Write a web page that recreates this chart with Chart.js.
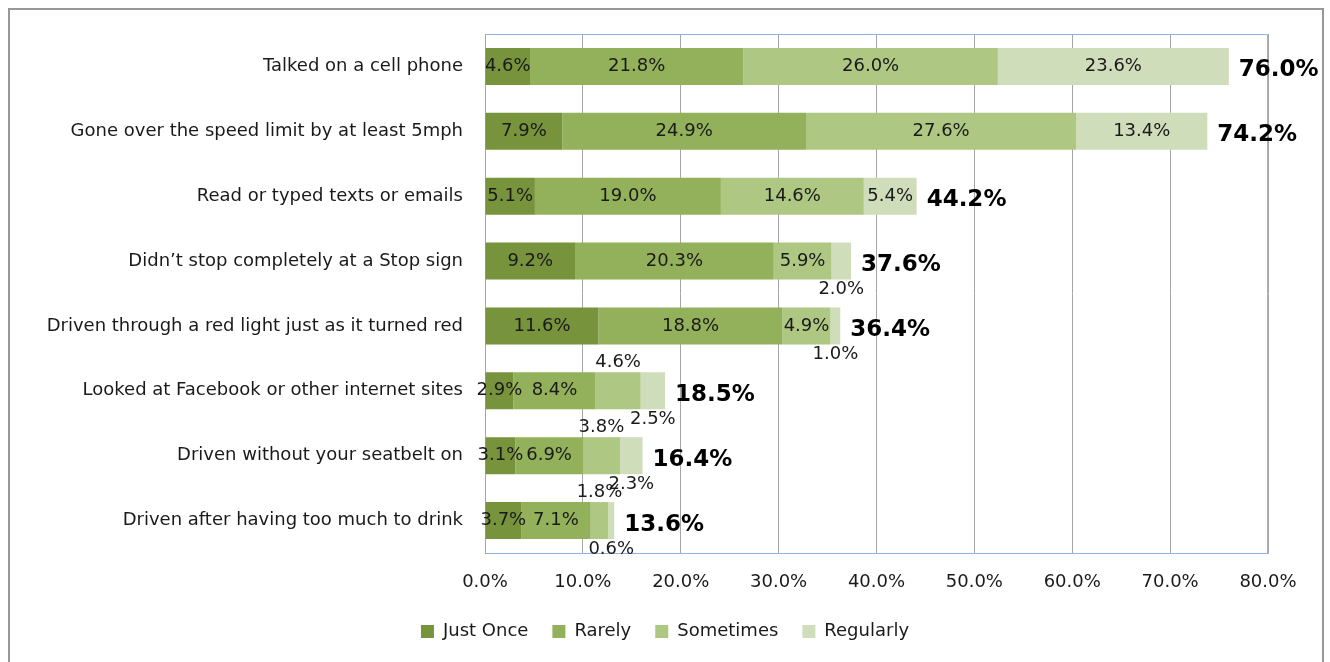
<!DOCTYPE html>
<html>
<head>
<meta charset="utf-8">
<script src="https://cdn.jsdelivr.net/npm/chart.js@4.4.0/dist/chart.umd.min.js"></script>
<style>
body { margin: 0; background: #fff; }
#wrap { position: relative; width: 1330px; height: 662px; overflow: hidden; }
#frame { position: absolute; left: 8px; top: 8px; width: 1312px; height: 700px; border: 2px solid #979797; }
canvas { position: absolute; left: 0; top: 0; }
</style>
</head>
<body>
<div id="wrap">
  <div id="frame"></div>
  <canvas id="chart" width="1330" height="662"></canvas>
</div>
<script>
// Data
const categories = [
    'Talked on a cell phone',
    'Gone over the speed limit by at least 5mph',
    'Read or typed texts or emails',
    'Didn\u2019t stop completely at a Stop sign',
    'Driven through a red light just as it turned red',
    'Looked at Facebook or other internet sites',
    'Driven without your seatbelt on',
    'Driven after having too much to drink'
];
const justOnce  = [4.6, 7.9, 5.1, 9.2, 11.6, 2.9, 3.1, 3.7];
const rarely    = [21.8, 24.9, 19.0, 20.3, 18.8, 8.4, 6.9, 7.1];
const sometimes = [26.0, 27.6, 14.6, 5.9, 4.9, 4.6, 3.8, 1.8];
const regularly = [23.6, 13.4, 5.4, 2.0, 1.0, 2.5, 2.3, 0.6];
const totals    = [76.0, 74.2, 44.2, 37.6, 36.4, 18.5, 16.4, 13.6];
const xTicks    = [0, 10, 20, 30, 40, 50, 60, 70, 80];

const FONT = '"DejaVu Sans", sans-serif';

// Draw the blue plot-area frame (top / right) over the gridlines
const plotFrame = {
    id: 'plotFrame',
    beforeDatasetsDraw(chart) {
        const a = chart.chartArea;
        const ctx = chart.ctx;
        ctx.save();
        ctx.strokeStyle = '#8EB4E3';
        ctx.lineWidth = 1;
        ctx.beginPath();
        ctx.moveTo(a.left, a.top + 0.5);
        ctx.lineTo(a.right - 0.5, a.top + 0.5);
        ctx.lineTo(a.right - 0.5, a.bottom);
        ctx.stroke();
        ctx.restore();
    }
};

// Segment values and row totals
const barLabels = {
    id: 'barLabels',
    afterDatasetsDraw(chart) {
        const ctx = chart.ctx;
        ctx.save();
        ctx.font = '18px ' + FONT;
        ctx.fillStyle = '#1a1a1a';
        ctx.textAlign = 'center';
        ctx.textBaseline = 'middle';
        chart.data.datasets.forEach((ds, i) => {
            chart.getDatasetMeta(i).data.forEach((bar, j) => {
                const v = ds.data[j];
                const cx = (bar.x + bar.base) / 2;
                let cy = bar.y;
                // narrow light segments get their label outside the bar
                if (i >= 2 && v < 4.8) {
                    cy = i === 2 ? bar.y - bar.height / 2 - 10 : bar.y + bar.height / 2 + 10;
                }
                ctx.fillText(v.toFixed(1) + '%', cx, cy);
            });
        });

        ctx.font = 'bold 23px ' + FONT;
        ctx.fillStyle = '#000';
        ctx.textAlign = 'left';
        const last = chart.getDatasetMeta(chart.data.datasets.length - 1);
        totals.forEach((t, j) => {
            const bar = last.data[j];
            ctx.fillText(t.toFixed(1) + '%', bar.x + 10, bar.y + 4);
        });
        ctx.restore();
    }
};

const ctx = document.getElementById('chart').getContext('2d');
new Chart(ctx, {
    type: 'bar',
    data: {
        labels: categories,
        datasets: [
            { label: 'Just Once', data: justOnce,  backgroundColor: '#77933C' },
            { label: 'Rarely',    data: rarely,    backgroundColor: '#93B05A' },
            { label: 'Sometimes', data: sometimes, backgroundColor: '#AEC782' },
            { label: 'Regularly', data: regularly, backgroundColor: '#D0DDBA' }
        ]
    },
    options: {
        indexAxis: 'y',
        responsive: false,
        animation: false,
        events: [],
        barPercentage: 0.57,
        categoryPercentage: 1,
        layout: { padding: { left: 0, right: 0, top: 34, bottom: 11.5 } },
        scales: {
            x: {
                stacked: true,
                min: 0,
                max: 80,
                afterBuildTicks: scale => { scale.ticks = xTicks.map(v => ({ value: v })); },
                afterFit: scale => { scale.height = 45.5; },
                ticks: {
                    padding: 19,
                    color: '#1a1a1a',
                    font: { family: FONT, size: 18 },
                    callback: v => v.toFixed(1) + '%'
                },
                grid: { color: '#A6A6A6', lineWidth: 1, drawTicks: false },
                border: { color: '#8EB4E3' }
            },
            y: {
                stacked: true,
                afterFit: scale => { scale.width = 485; },
                ticks: {
                    padding: 14,
                    color: '#1a1a1a',
                    font: { family: FONT, size: 18 }
                },
                grid: { display: false },
                border: { color: '#A6A6A6' }
            },
            // empty right-hand gutter so the legend centres on the full width
            gutter: {
                type: 'category',
                labels: categories,
                position: 'right',
                afterFit: scale => { scale.width = 62; },
                ticks: { display: false },
                grid: { display: false },
                border: { display: false }
            }
        },
        plugins: {
            legend: {
                position: 'bottom',
                labels: {
                    boxWidth: 13,
                    boxHeight: 13,
                    padding: 24,
                    color: '#1a1a1a',
                    font: { family: FONT, size: 18 }
                }
            },
            tooltip: { enabled: false }
        }
    },
    plugins: [plotFrame, barLabels]
});
</script>
</body>
</html>
